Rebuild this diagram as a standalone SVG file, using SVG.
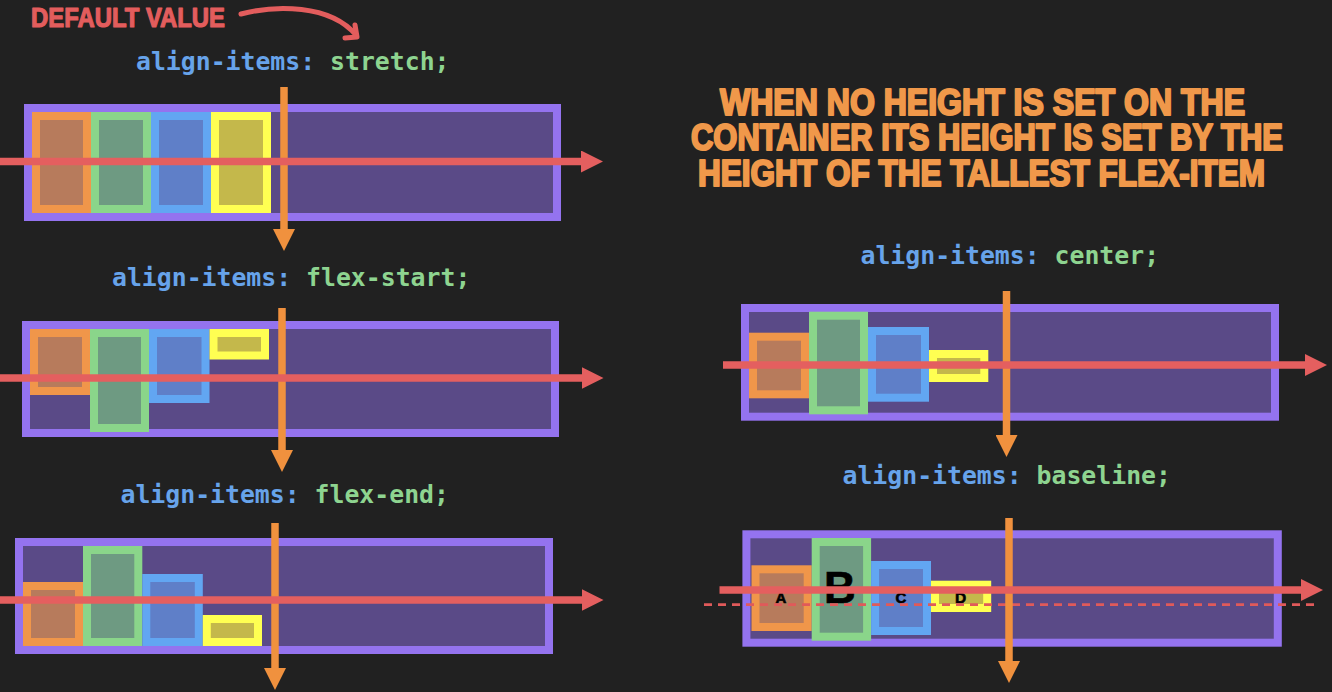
<svg xmlns="http://www.w3.org/2000/svg" width="1332" height="692" viewBox="0 0 1332 692">
  <style>
    .bg { fill: #212121; }
    .box { fill: #5a4a87; stroke: #9473ef; stroke-width: 8; }
    .it-o { fill: #b77b5c; stroke: #f0964a; stroke-width: 8; }
    .it-g { fill: #6e9a82; stroke: #8ad58a; stroke-width: 8; }
    .it-b { fill: #5f7fc8; stroke: #62a6f2; stroke-width: 8; }
    .it-y { fill: #c4b84b; stroke: #ffff52; stroke-width: 8; }
    .code { font-family: "DejaVu Sans Mono", "Liberation Mono", monospace; font-weight: bold; font-size: 24.8px; }
    .prop { fill: #67a3ea; }
    .val { fill: #8ed490; }
    .hand { font-family: "Liberation Sans", "DejaVu Sans", sans-serif; font-weight: bold; stroke-linejoin: round; }
    .note { fill: #f0984a; stroke: #f0984a; stroke-width: 2.2; font-size: 37px; }
    .tag { fill: #e35d5d; stroke: #e35d5d; stroke-width: 1.2; font-size: 28px; }
    .main { stroke: #e45f5f; stroke-width: 7.5; fill: none; marker-end: url(#head-red); }
    .cross { stroke: #f0913e; stroke-width: 7.5; fill: none; marker-end: url(#head-orange); }
    .base { stroke: #e05a5a; stroke-width: 2.7; stroke-dasharray: 8 6; fill: none; }
    .letter { font-family: "Liberation Sans", Arial, sans-serif; font-weight: bold; fill: #000; stroke: #000; stroke-width: 0.6; text-anchor: middle; }
  </style>
  <defs>
    <marker id="head-red" viewBox="0 0 22 22" markerWidth="22" markerHeight="22" refX="10" refY="11" orient="auto" markerUnits="userSpaceOnUse">
      <path d="M0,0 L22,11 L0,22 Z" fill="#e45f5f"/>
    </marker>
    <marker id="head-orange" viewBox="0 0 22 22" markerWidth="22" markerHeight="22" refX="10" refY="11" orient="auto" markerUnits="userSpaceOnUse">
      <path d="M0,0 L22,11 L0,22 Z" fill="#f0913e"/>
    </marker>
  </defs>

  <rect class="bg" x="0" y="0" width="1332" height="692"/>

  <!-- annotation: default value -->
  <g id="default-note">
    <text class="hand tag" x="31" y="27" textLength="194" lengthAdjust="spacingAndGlyphs">DEFAULT VALUE</text>
    <path d="M241,14 C275,5 330,4 356,35" fill="none" stroke="#e35d5d" stroke-width="5" stroke-linecap="round"/>
    <path d="M355,25 L357,37 L345,38" fill="none" stroke="#e35d5d" stroke-width="5" stroke-linecap="round" stroke-linejoin="round"/>
  </g>

  <!-- heading note -->
  <g id="height-note">
    <text class="hand note" x="720" y="115" textLength="525" lengthAdjust="spacingAndGlyphs">WHEN NO HEIGHT IS SET ON THE</text>
    <text class="hand note" x="691" y="150" textLength="592" lengthAdjust="spacingAndGlyphs">CONTAINER ITS HEIGHT IS SET BY THE</text>
    <text class="hand note" x="698" y="186" textLength="567" lengthAdjust="spacingAndGlyphs">HEIGHT OF THE TALLEST FLEX-ITEM</text>
  </g>

  <!-- stretch -->
  <g id="stretch">
    <text class="code" x="136" y="70"><tspan class="prop">align-items:</tspan><tspan class="val"> stretch;</tspan></text>
    <rect class="box" x="28" y="108" width="529" height="109"/>
    <rect class="it-o" x="36" y="116" width="51" height="93"/>
    <rect class="it-g" x="95" y="116" width="52" height="93"/>
    <rect class="it-b" x="155" y="116" width="52" height="93"/>
    <rect class="it-y" x="215" y="116" width="52" height="93"/>
  </g>

  <!-- flex-start -->
  <g id="flex-start">
    <text class="code" x="112" y="286"><tspan class="prop">align-items:</tspan><tspan class="val"> flex-start;</tspan></text>
    <rect class="box" x="26" y="325" width="529" height="108"/>
    <rect class="it-o" x="34" y="333" width="52" height="58"/>
    <rect class="it-g" x="94" y="333" width="51" height="95"/>
    <rect class="it-b" x="153" y="333" width="52.5" height="66"/>
    <rect class="it-y" x="213.5" y="333" width="51.5" height="22.5"/>
  </g>

  <!-- flex-end -->
  <g id="flex-end">
    <text class="code" x="120.5" y="503"><tspan class="prop">align-items:</tspan><tspan class="val"> flex-end;</tspan></text>
    <rect class="box" x="19" y="542" width="530" height="108"/>
    <rect class="it-o" x="27" y="586" width="52" height="56"/>
    <rect class="it-g" x="87" y="550" width="51.3" height="92"/>
    <rect class="it-b" x="146.3" y="578" width="52.5" height="64"/>
    <rect class="it-y" x="206.8" y="619" width="51.2" height="23"/>
  </g>

  <!-- center -->
  <g id="center">
    <text class="code" x="860.5" y="264"><tspan class="prop">align-items:</tspan><tspan class="val"> center;</tspan></text>
    <rect class="box" x="745" y="308" width="530" height="108.7"/>
    <rect class="it-o" x="753" y="336.7" width="52" height="57.6"/>
    <rect class="it-g" x="813" y="315.7" width="51" height="94.6"/>
    <rect class="it-b" x="872" y="331" width="53" height="66.7"/>
    <rect class="it-y" x="933" y="354" width="51.3" height="24"/>
  </g>

  <!-- baseline -->
  <g id="baseline">
    <text class="code" x="842.5" y="484"><tspan class="prop">align-items:</tspan><tspan class="val"> baseline;</tspan></text>
    <rect class="box" x="746.4" y="534.3" width="531.4" height="108.4"/>
    <rect class="it-o" x="755.5" y="569.3" width="52.2" height="57.7"/>
    <rect class="it-g" x="815.7" y="542" width="51.4" height="94.7"/>
    <rect class="it-b" x="875.1" y="565" width="51.9" height="66"/>
    <rect class="it-y" x="935" y="584.7" width="52.2" height="23.3"/>
    <text class="letter" x="781" y="603" font-size="15">A</text>
    <text class="letter" x="840" y="603" font-size="44">B</text>
    <text class="letter" x="901" y="603" font-size="15">C</text>
    <text class="letter" x="960.5" y="603" font-size="15.5">D</text>
    <line class="base" x1="704" y1="604.7" x2="1315" y2="604.7"/>
  </g>

  <!-- axes: cross axis (orange) and main axis (red) -->
  <g id="connectors">
    <line class="cross" x1="284" y1="87" x2="284" y2="239"/>
    <line class="cross" x1="282" y1="308" x2="282" y2="460"/>
    <line class="cross" x1="275" y1="523" x2="275" y2="678"/>
    <line class="cross" x1="1006.5" y1="291" x2="1006.5" y2="445"/>
    <line class="cross" x1="1009" y1="518" x2="1009" y2="671"/>

    <line class="main" x1="0" y1="161.5" x2="591" y2="161.5"/>
    <line class="main" x1="0" y1="378" x2="591.5" y2="378"/>
    <line class="main" x1="0" y1="600" x2="591.5" y2="600"/>
    <line class="main" x1="723" y1="365" x2="1315" y2="365"/>
    <line class="main" x1="719.5" y1="590" x2="1311" y2="590"/>
  </g>
</svg>
